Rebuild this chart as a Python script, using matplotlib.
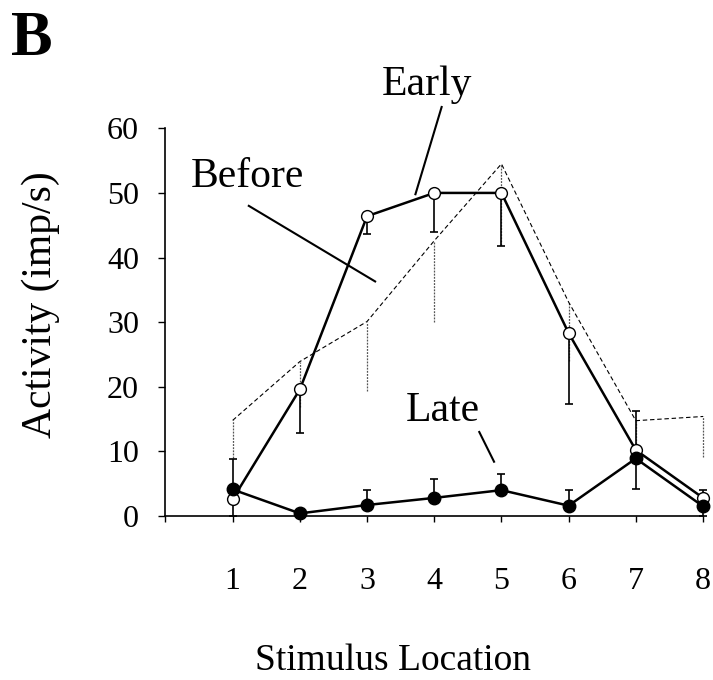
import matplotlib
matplotlib.use("Agg")
import matplotlib.pyplot as plt

plt.rcParams['font.family'] = ['Liberation Serif', 'DejaVu Serif']

locations = [1, 2, 3, 4, 5, 6, 7, 8]
tick_labels = ['1', '2', '3', '4', '5', '6', '7', '8']
before = [14.8, 23.9, 30.1, 42.6, 54.5, 33.1, 14.75, 15.4]
before_err = [5.8, 7.0, 10.7, 12.6, 12.6, 9.1, 4.05, 6.2]
early = [2.6, 19.6, 46.4, 50.0, 50.0, 28.3, 10.2, 2.8]
early_err = [2.6, 6.8, 2.8, 6.1, 8.2, 11.0, 6.0, 2.8]
late = [4.1, 0.4, 1.7, 2.8, 4.0, 1.6, 8.9, 1.5]
late_err = [4.7, 0.0, 2.3, 2.9, 2.5, 2.4, 7.4, 2.5]

fig = plt.figure(figsize=(7.13, 6.8), dpi=100)
ax = fig.add_axes([0.2321, 0.2412, 0.9860 - 0.2321, 0.8113 - 0.2412])

# Before: dashed line with dotted downward bars
eb = ax.errorbar(locations, before, yerr=[before_err, [0] * 8], fmt='none',
                 ecolor='#555555', elinewidth=0.9, capsize=0, clip_on=False, zorder=2)
for bar in eb.lines[2]:
    bar.set_linestyle((0, (1.5, 1.0)))
ax.plot(locations, before, color='black', lw=0.8, linestyle=(0, (4, 2.5)),
        clip_on=False, zorder=2)

# Early: open circles, downward bars
ax.errorbar(locations, early, yerr=[early_err, [0] * 8], fmt='none',
            ecolor='black', elinewidth=1.2, capsize=3.2, capthick=1.2,
            clip_on=False, zorder=3)
ax.plot(locations, early, color='black', lw=1.8, marker='o', markersize=8.5,
        markerfacecolor='white', markeredgecolor='black', markeredgewidth=1.0,
        clip_on=False, zorder=4)

# Late: filled circles, upward bars
ax.errorbar(locations, late, yerr=[[0] * 8, late_err], fmt='none',
            ecolor='black', elinewidth=1.2, capsize=3.2, capthick=1.2,
            clip_on=False, zorder=3)
ax.plot(locations, late, color='black', lw=1.8, marker='o', markersize=9,
        markerfacecolor='black', markeredgecolor='black',
        clip_on=False, zorder=5)

ax.set_xlim(0, 8)
ax.set_ylim(0, 60)
ax.set_xticks([0] + locations)
ax.set_xticklabels([''] + tick_labels)
ax.set_yticks([0, 10, 20, 30, 40, 50, 60])
ax.spines['top'].set_visible(False)
ax.spines['right'].set_visible(False)
ax.spines['left'].set_linewidth(1.2)
ax.spines['bottom'].set_linewidth(1.2)
ax.tick_params(axis='x', direction='out', length=4, width=1, pad=33, labelsize=23)
ax.tick_params(axis='y', direction='out', length=5, width=1, pad=14, labelsize=23)

# annotations
ax.text(3.89, 65.2, 'Early', fontsize=30, ha='center', va='baseline')
ax.plot([4.11, 3.72], [63.3, 49.8], color='black', lw=1.5, clip_on=False)
ax.text(1.22, 50.9, 'Before', fontsize=30, ha='center', va='baseline')
ax.plot([1.24, 3.12], [48.0, 36.3], color='black', lw=1.5, clip_on=False)
ax.text(4.13, 14.75, 'Late', fontsize=30, ha='center', va='baseline')
ax.plot([4.67, 4.89], [13.0, 8.4], color='black', lw=1.5, clip_on=False)

fig.text(41 / 713, 1 - 305 / 680, 'Activity (imp/s)', rotation=90,
         fontsize=30, ha='center', va='center')
fig.text(393 / 713, 1 - 670 / 680, 'Stimulus Location', fontsize=27,
         ha='center', va='baseline')
fig.text(11 / 713, 1 - 55 / 680, 'B', fontsize=45, fontweight='bold',
         ha='left', va='baseline')

fig.savefig('out.png', dpi=100)
